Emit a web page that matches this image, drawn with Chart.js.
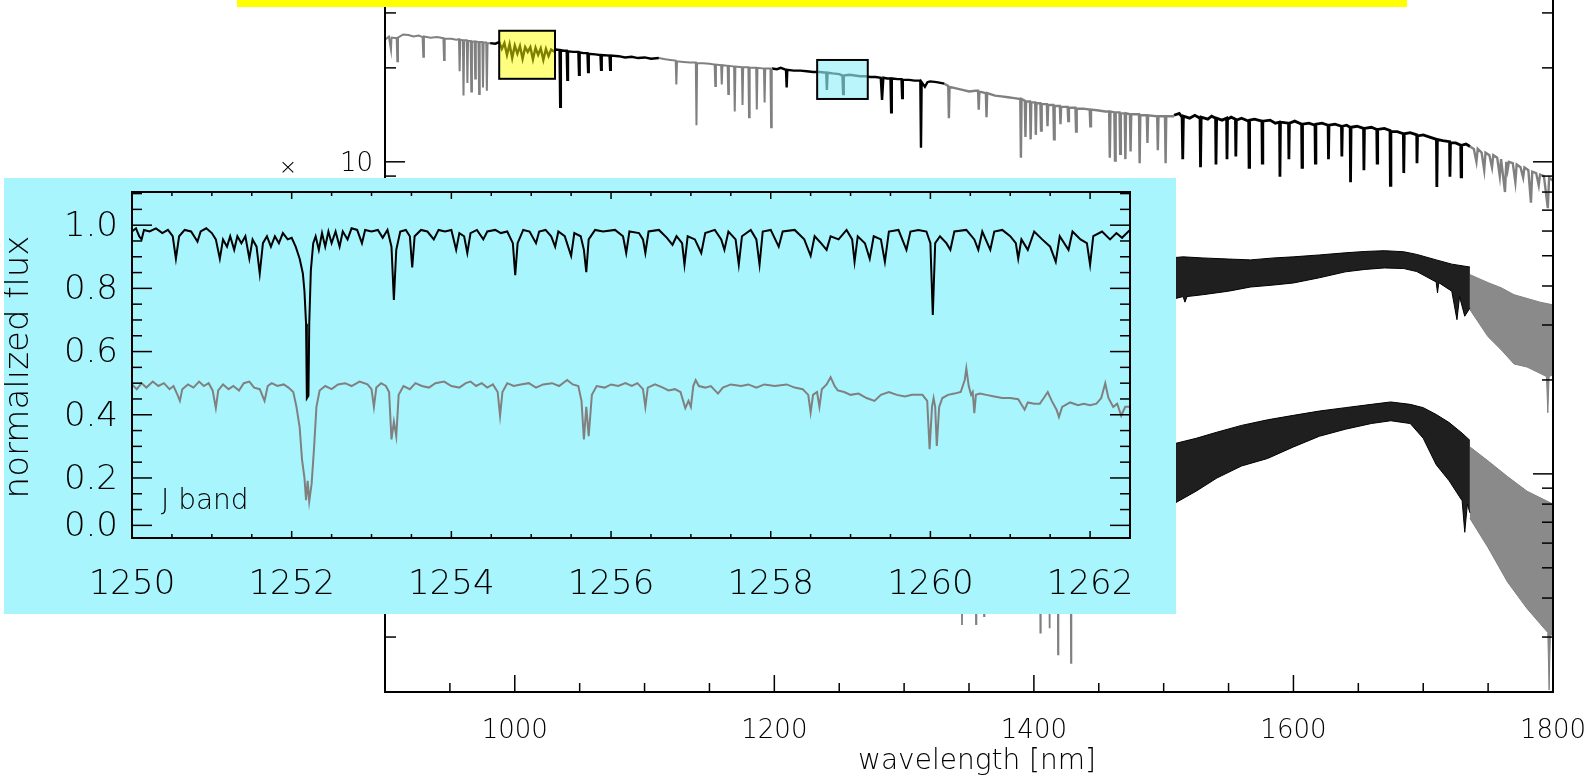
<!DOCTYPE html>
<html>
<head>
<meta charset="utf-8">
<script src="https://cdn.jsdelivr.net/npm/chart.js@4.4.0/dist/chart.umd.min.js"></script>
<style>
  body { margin: 0; background: #fff; }
  #wrap { position: relative; width: 1593px; height: 779px; overflow: hidden; }
  #main { position: absolute; left: 0; top: 0; }
  #yellowBar { position: absolute; left: 237px; top: 0; width: 1170px; height: 7px; background: #ffff00; }
  #insetBox { position: absolute; left: 4px; top: 178px; width: 1172px; height: 436px; background: #a9f5fd; }
  #inset { position: absolute; left: 0; top: 0; }
</style>
</head>
<body>
<div id="wrap">
  <canvas id="main" width="1593" height="779"></canvas>
  <div id="yellowBar"></div>
  <div id="insetBox"><canvas id="inset" width="1172" height="436"></canvas></div>
</div>
<script>
// ---- main panel: wavelength [nm] vs flux (log) ----
// top spectrum, segments alternate grey / black
var topA = [[900,24.6],[903,25.2],[904.6,22.9],[905,25.0],[909,24.9],[909.5,21.0],[910,25.0],[914,25.6],[918,25.5],[922,25.2],[926,25.4],[929,25.1],[929.5,21.7],[930,25.2],[935,25.0],[940,25.1],[945,24.9],[945.5,21.2],[946,24.8],[951,24.8],[955,24.6],[957,24.7],[957.5,19.5],[958,24.6],[960,24.5],[960.5,16.3],[961,24.5],[963,24.5],[963.5,17.9],[964,24.4],[966,24.4],[966.5,16.8],[967,24.3],[969,24.3],[969.5,18.5],[970,24.3],[972,24.2],[972.5,16.5],[973,24.2],[975,24.2],[975.5,17.3],[976,24.1],[978,24.1],[978.5,16.9],[979,24.0],[981,24.0]];
var topB = [[981,24.0],[985,23.9],[988,24.2],[990,23.0],[992,24.0],[994,22.0],[996,23.8],[998,21.5],[1000,23.6],[1002,22.2],[1004,23.5],[1006,21.4],[1008,23.3],[1010,22.5],[1012,23.3],[1014,21.3],[1016,23.2],[1018,22.0],[1020,23.1],[1022,21.2],[1024,23.0],[1026,21.8],[1028,22.9],[1030,22.6],[1032,22.9],[1034.5,22.8],[1035,15.0],[1035.5,22.8],[1038,22.7],[1040,22.7],[1040.5,18.3],[1041,22.6],[1045,22.5],[1049,22.5],[1049.5,19.0],[1050,22.4],[1053,22.3],[1056,22.3],[1056.5,19.4],[1057,22.2],[1062,22.1],[1066,22.0],[1066.5,19.7],[1067,22.0],[1073,21.9],[1073.5,19.7],[1074,21.9],[1080,21.8],[1085,21.6],[1090,21.7],[1095,21.5],[1100,21.6],[1105,21.4],[1111,21.5]];
var topC = [[1111,21.5],[1116,21.3],[1120,21.2],[1124,21.1],[1124.5,17.7],[1125,21.0],[1130,20.9],[1135,20.8],[1139.5,20.8],[1140,13.1],[1140.5,20.7],[1145,20.7],[1150,20.6],[1154,20.5],[1154.5,17.5],[1155,20.5],[1159,20.4],[1159.5,17.7],[1160,20.4],[1164,20.3],[1164.5,16.5],[1165,20.3],[1169,20.2],[1169.5,14.5],[1170,20.2],[1175,20.1],[1175.5,15.2],[1176,20.1],[1180,20.1],[1180.5,13.9],[1181,20.0],[1186,20.0],[1186.5,14.7],[1187,20.0],[1192,19.9],[1192.5,15.5],[1193,19.9],[1197,19.9],[1197.5,12.9],[1198,19.9]];
var topD = [[1198,19.9],[1202,19.8],[1205,20.0],[1209,19.7],[1209.5,17.3],[1210,19.7],[1215,19.6],[1220,19.6],[1225,19.5],[1230,19.4],[1235,19.4],[1240,19.3],[1240.5,17.0],[1241,19.3],[1245,19.2],[1250,19.1],[1252.5,18.9],[1253,16.5],[1253.5,18.9],[1258,19.0],[1262,18.9],[1266,18.8],[1270,18.8],[1274,18.7],[1278,18.7],[1282,18.6],[1283,15.8],[1284,18.6],[1287,18.5],[1289.5,18.5],[1290,14.4],[1290.5,18.5],[1295,18.4],[1298,18.4],[1298.5,16.0],[1299,18.3],[1304,18.3],[1308,18.2],[1312.5,18.2],[1313,11.1],[1313.5,18.0],[1316,17.4],[1318,18.0],[1320,18.1],[1325,18.0],[1331,17.8]];
var topE = [[1331,17.8],[1334,17.5],[1334.5,13.8],[1335,17.4],[1340,17.2],[1345,17.0],[1350,16.8],[1355,16.9],[1357,16.9],[1357.5,14.7],[1358,16.8],[1363,16.6],[1363.5,13.9],[1364,16.6],[1370,16.3],[1375,16.2],[1380,16.1],[1385,16.0],[1389.5,15.9],[1390,10.3],[1390.5,15.9],[1393,15.7],[1393.5,12.0],[1394,15.6],[1397,15.6],[1397.5,11.8],[1398,15.5],[1401,15.5],[1401.5,12.2],[1402,15.4],[1405,15.4],[1405.5,12.6],[1406,15.3],[1410,15.3],[1410.5,13.0],[1411,15.2],[1415,15.2],[1415.5,11.8],[1416,15.1],[1420,15.1],[1420.5,13.2],[1421,15.0],[1426,15.0],[1426.5,13.5],[1427,14.9],[1432,14.9],[1432.5,12.5],[1433,14.8],[1438,14.8],[1443,14.7],[1443.5,13.0],[1444,14.7],[1450,14.6],[1455,14.5],[1458,14.5],[1458.5,10.3],[1459,14.5],[1462,14.4],[1462.5,10.1],[1463,14.4],[1466,14.4],[1466.5,10.6],[1467,14.3],[1470,14.3],[1470.5,10.2],[1471,14.3],[1474,14.2],[1474.5,10.8],[1475,14.2],[1481,14.2],[1481.5,9.9],[1482,14.1],[1487,14.1],[1487.5,11.5],[1488,14.1],[1495,14.0],[1495.5,10.9],[1496,14.0],[1501,14.0],[1501.5,9.9],[1502,14.0],[1508,14.0]];
var topF = [[1508,14.1],[1512,14.3],[1514.2,13.9],[1514.7,10.2],[1515.2,14.0],[1520,13.8],[1524,14.1],[1528,13.8],[1528.4,9.6],[1528.9,13.9],[1534,13.7],[1537,14.0],[1540,13.8],[1540.3,9.8],[1540.8,13.8],[1545,13.6],[1548.5,13.8],[1548.8,10.2],[1549.2,13.7],[1552,13.9],[1555.3,13.7],[1555.6,10.4],[1556,13.6],[1560,13.8],[1565.5,13.5],[1565.8,9.6],[1566.2,13.6],[1570,13.7],[1575.7,13.5],[1576,9.9],[1576.4,13.5],[1582,13.6],[1586,13.3],[1589.3,13.4],[1589.6,8.95],[1590,13.4],[1596.2,13.3],[1596.5,10.2],[1596.9,13.3],[1601,13.5],[1606.3,13.2],[1606.6,9.6],[1607,13.2],[1612,13.3],[1616.6,13.1],[1616.9,9.9],[1617.3,13.2],[1622,13.3],[1626.7,13.1],[1627,10.2],[1627.4,13.1],[1632,13.2],[1637,13.0],[1637.3,10.4],[1637.7,13.0],[1641,13.1],[1643.7,12.9],[1644,8.6],[1644.4,12.9],[1649,13.0],[1654,12.8],[1654.3,9.4],[1654.7,12.8],[1660,12.9],[1664.2,12.7],[1664.5,9.9],[1664.9,12.7],[1670,12.8],[1674.4,12.6],[1674.7,8.4],[1675.1,12.5],[1680,12.5],[1684.7,12.3],[1685,9.2],[1685.4,12.3],[1690,12.4],[1695,12.2],[1695.2,9.9],[1695.6,12.1],[1700,12.2],[1705,12.0],[1710.2,11.8],[1710.5,8.3],[1710.9,11.8],[1715,11.7],[1720.3,11.6],[1720.6,8.95],[1721,11.5],[1725,11.5],[1728.9,11.3],[1729.2,8.95],[1729.6,11.3],[1733,11.4],[1736,11.2]];
var topG = [[1736,11.2],[1739,11.0],[1741,10.0],[1742,11.0],[1745,10.7],[1747,9.4],[1748,10.7],[1751,10.5],[1753,9.6],[1754,10.5],[1757,10.3],[1759,9.0],[1760,10.2],[1763,8.0],[1764,10.0],[1765,9.4],[1766,10.0],[1769,9.9],[1771,8.6],[1772,9.8],[1775,9.6],[1777,8.9],[1778,9.6],[1781,9.4],[1783,7.4],[1784,9.3],[1787,9.2],[1789,8.4],[1790,9.1],[1793,9.0],[1796,7.1],[1797,8.9],[1800,8.7]];

// middle spectrum: noisy band, upper / lower envelope
var midBlackUp = [[1505,4.92],[1515,4.96],[1530,4.92],[1550,4.88],[1567,4.85],[1585,4.92],[1600,4.96],[1620,5.03],[1640,5.11],[1655,5.16],[1670,5.19],[1685,5.15],[1695,5.05],[1710,4.85],[1722,4.70],[1736,4.60]];
var midBlackLo = [[1505,3.61],[1515,3.70],[1516.4,3.55],[1518,3.70],[1530,3.75],[1550,3.85],[1567,3.97],[1585,4.03],[1600,4.09],[1620,4.25],[1640,4.44],[1655,4.52],[1670,4.57],[1685,4.55],[1695,4.45],[1710,4.12],[1711,3.80],[1712,4.10],[1722,3.85],[1726,3.12],[1728,3.70],[1732,3.20],[1736,3.40]];
var midGreyUp = [[1736,4.35],[1750,4.10],[1760,3.95],[1770,3.75],[1780,3.65],[1790,3.55],[1800,3.48]];
var midGreyLo = [[1736,3.36],[1750,2.75],[1760,2.50],[1770,2.25],[1780,2.20],[1790,2.10],[1795,2.05],[1796,1.57],[1797,2.05],[1800,2.08]];

// bottom spectrum
var botBlackUp = [[1505,1.24],[1525,1.30],[1541,1.36],[1560,1.43],[1580,1.49],[1600,1.54],[1620,1.59],[1640,1.63],[1660,1.67],[1675,1.70],[1690,1.67],[1700,1.63],[1710,1.55],[1720,1.46],[1730,1.35],[1736,1.28]];
var botBlackLo = [[1505,0.79],[1525,0.88],[1541,0.97],[1560,1.06],[1580,1.12],[1600,1.22],[1620,1.32],[1640,1.39],[1660,1.45],[1675,1.48],[1690,1.45],[1700,1.30],[1710,1.07],[1720,0.95],[1730,0.82],[1732,0.65],[1734,0.80],[1736,0.75]];
var botGreyUp = [[1736,1.22],[1750,1.10],[1765,0.98],[1780,0.88],[1800,0.80]];
var botGreyLo = [[1736,0.72],[1750,0.58],[1765,0.45],[1780,0.37],[1796,0.31],[1797,0.203],[1798,0.31],[1800,0.30]];
// telluric lines of the bottom spectrum that reach below the inset
var botTelluric = [[1335,0.60],[1344.3,0.60],[1344.6,0.328],[1344.9,0.60],[1355.1,0.60],[1355.4,0.33],[1355.7,0.60],[1361.3,0.60],[1361.6,0.35],[1361.9,0.60],[1404.7,0.55],[1405,0.31],[1405.3,0.55],[1411.7,0.55],[1412,0.32],[1412.3,0.55],[1418.3,0.55],[1418.6,0.264],[1418.9,0.55],[1428.3,0.55],[1428.6,0.248],[1428.9,0.55],[1440,0.60]];

// highlight boxes: [nm from, nm to, flux low, flux high]
var yellowBox = [988, 1031, 18.45, 26.3];
var cyanBox = [1233, 1272, 15.9, 21.2];

var mainXTicks = [1000, 1200, 1400, 1600, 1800];
var mainXLabels = ['1000', '1200', '1400', '1600', '1800'];
var mainYTicks = [1, 10];
var mainYLabels = ['1', '10'];

// ---- inset: J band, normalized flux ----
var insetBlack = [[1250.00,0.98],[1250.05,0.99],[1250.09,0.965],[1250.12,0.955],[1250.15,0.985],[1250.22,0.98],[1250.30,0.99],[1250.38,0.975],[1250.45,0.985],[1250.51,0.965],[1250.55,0.894],[1250.59,0.965],[1250.66,0.985],[1250.74,0.98],[1250.79,0.96],[1250.82,0.948],[1250.86,0.98],[1250.93,0.99],[1251.00,0.975],[1251.05,0.955],[1251.10,0.894],[1251.14,0.955],[1251.19,0.932],[1251.23,0.965],[1251.28,0.922],[1251.32,0.965],[1251.37,0.943],[1251.42,0.965],[1251.47,0.894],[1251.51,0.955],[1251.56,0.932],[1251.60,0.847],[1251.64,0.943],[1251.69,0.965],[1251.74,0.932],[1251.79,0.965],[1251.84,0.943],[1251.89,0.975],[1251.95,0.955],[1252.00,0.96],[1252.05,0.932],[1252.10,0.894],[1252.14,0.847],[1252.16,0.791],[1252.18,0.688],[1252.19,0.452],[1252.21,0.46],[1252.22,0.688],[1252.24,0.856],[1252.27,0.943],[1252.30,0.965],[1252.34,0.922],[1252.38,0.975],[1252.42,0.932],[1252.46,0.98],[1252.50,0.943],[1252.55,0.98],[1252.60,0.932],[1252.64,0.98],[1252.70,0.955],[1252.75,0.99],[1252.82,0.985],[1252.88,0.943],[1252.92,0.985],[1253.00,0.98],[1253.08,0.985],[1253.14,0.96],[1253.20,0.985],[1253.25,0.932],[1253.28,0.763],[1253.31,0.922],[1253.36,0.98],[1253.43,0.985],[1253.48,0.965],[1253.51,0.866],[1253.54,0.965],[1253.62,0.985],[1253.70,0.98],[1253.78,0.955],[1253.84,0.985],[1253.92,0.98],[1254.00,0.985],[1254.06,0.922],[1254.10,0.975],[1254.16,0.965],[1254.20,0.912],[1254.24,0.975],[1254.32,0.985],[1254.40,0.955],[1254.45,0.98],[1254.55,0.985],[1254.62,0.975],[1254.70,0.98],[1254.77,0.943],[1254.80,0.842],[1254.83,0.943],[1254.90,0.985],[1254.98,0.98],[1255.06,0.943],[1255.10,0.98],[1255.18,0.985],[1255.25,0.965],[1255.30,0.932],[1255.34,0.98],[1255.42,0.965],[1255.50,0.903],[1255.54,0.975],[1255.62,0.965],[1255.66,0.922],[1255.69,0.851],[1255.72,0.955],[1255.80,0.985],[1255.90,0.98],[1256.05,0.985],[1256.15,0.965],[1256.19,0.912],[1256.23,0.98],[1256.35,0.975],[1256.40,0.955],[1256.43,0.912],[1256.47,0.98],[1256.60,0.985],[1256.70,0.96],[1256.77,0.938],[1256.82,0.965],[1256.89,0.943],[1256.92,0.875],[1256.96,0.965],[1257.05,0.955],[1257.13,0.912],[1257.18,0.975],[1257.30,0.985],[1257.38,0.955],[1257.42,0.922],[1257.47,0.98],[1257.56,0.955],[1257.60,0.875],[1257.64,0.965],[1257.75,0.985],[1257.82,0.955],[1257.86,0.875],[1257.90,0.98],[1258.00,0.985],[1258.10,0.932],[1258.15,0.98],[1258.30,0.985],[1258.42,0.955],[1258.50,0.903],[1258.55,0.965],[1258.63,0.943],[1258.70,0.922],[1258.75,0.965],[1258.85,0.955],[1258.95,0.985],[1259.02,0.955],[1259.05,0.884],[1259.09,0.965],[1259.18,0.943],[1259.24,0.894],[1259.29,0.965],[1259.38,0.955],[1259.43,0.884],[1259.48,0.98],[1259.60,0.985],[1259.70,0.922],[1259.75,0.98],[1259.85,0.985],[1259.95,0.98],[1260.00,0.943],[1260.03,0.716],[1260.06,0.943],[1260.12,0.965],[1260.20,0.943],[1260.25,0.922],[1260.30,0.98],[1260.45,0.985],[1260.55,0.955],[1260.60,0.922],[1260.65,0.98],[1260.75,0.922],[1260.80,0.98],[1260.90,0.985],[1261.00,0.965],[1261.07,0.943],[1261.10,0.894],[1261.14,0.955],[1261.22,0.922],[1261.30,0.98],[1261.40,0.955],[1261.50,0.932],[1261.57,0.884],[1261.62,0.965],[1261.73,0.922],[1261.78,0.98],[1261.88,0.955],[1261.96,0.943],[1262.00,0.875],[1262.04,0.965],[1262.15,0.98],[1262.25,0.955],[1262.33,0.975],[1262.40,0.96],[1262.50,0.985]];
var insetGrey = [[1250.00,0.496],[1250.06,0.481],[1250.12,0.50],[1250.18,0.486],[1250.26,0.505],[1250.33,0.491],[1250.40,0.50],[1250.47,0.481],[1250.52,0.491],[1250.57,0.463],[1250.60,0.444],[1250.63,0.481],[1250.70,0.496],[1250.77,0.486],[1250.84,0.505],[1250.90,0.491],[1250.96,0.50],[1251.01,0.477],[1251.05,0.421],[1251.08,0.477],[1251.14,0.496],[1251.21,0.481],[1251.27,0.491],[1251.34,0.477],[1251.40,0.50],[1251.47,0.505],[1251.53,0.486],[1251.60,0.481],[1251.66,0.444],[1251.70,0.491],[1251.75,0.50],[1251.82,0.491],[1251.90,0.496],[1251.96,0.486],[1252.02,0.472],[1252.06,0.425],[1252.10,0.36],[1252.13,0.257],[1252.16,0.20],[1252.18,0.13],[1252.20,0.191],[1252.22,0.126],[1252.25,0.182],[1252.28,0.294],[1252.31,0.425],[1252.35,0.477],[1252.42,0.491],[1252.50,0.481],[1252.58,0.496],[1252.67,0.50],[1252.75,0.491],[1252.85,0.505],[1252.95,0.496],[1253.00,0.481],[1253.03,0.425],[1253.06,0.486],[1253.12,0.50],[1253.18,0.491],[1253.22,0.472],[1253.25,0.322],[1253.28,0.378],[1253.31,0.332],[1253.34,0.463],[1253.40,0.491],[1253.48,0.481],[1253.55,0.50],[1253.63,0.491],[1253.72,0.486],[1253.80,0.50],[1253.91,0.505],[1254.00,0.491],[1254.10,0.486],[1254.18,0.50],[1254.24,0.505],[1254.31,0.491],[1254.38,0.50],[1254.45,0.486],[1254.52,0.496],[1254.58,0.472],[1254.61,0.397],[1254.64,0.472],[1254.70,0.50],[1254.78,0.491],[1254.87,0.496],[1254.97,0.50],[1255.06,0.486],[1255.15,0.496],[1255.26,0.50],[1255.35,0.491],[1255.45,0.51],[1255.52,0.496],[1255.59,0.491],[1255.63,0.444],[1255.66,0.322],[1255.69,0.425],[1255.72,0.332],[1255.76,0.463],[1255.82,0.491],[1255.92,0.486],[1256.00,0.496],[1256.09,0.491],[1256.18,0.50],[1256.26,0.491],[1256.33,0.50],[1256.40,0.481],[1256.43,0.425],[1256.46,0.486],[1256.55,0.496],[1256.65,0.486],[1256.72,0.477],[1256.80,0.481],[1256.87,0.472],[1256.93,0.421],[1256.97,0.444],[1257.00,0.425],[1257.03,0.491],[1257.06,0.51],[1257.10,0.491],[1257.18,0.486],[1257.25,0.491],[1257.34,0.467],[1257.40,0.486],[1257.50,0.496],[1257.63,0.491],[1257.72,0.496],[1257.82,0.486],[1257.92,0.496],[1258.05,0.491],[1258.20,0.496],[1258.30,0.486],[1258.40,0.481],[1258.47,0.463],[1258.50,0.407],[1258.53,0.463],[1258.58,0.472],[1258.61,0.425],[1258.64,0.481],[1258.70,0.496],[1258.75,0.519],[1258.80,0.491],[1258.84,0.477],[1258.92,0.472],[1259.00,0.463],[1259.10,0.467],[1259.20,0.453],[1259.30,0.444],[1259.38,0.463],[1259.48,0.472],[1259.58,0.463],[1259.68,0.458],[1259.77,0.463],[1259.85,0.463],[1259.90,0.463],[1259.96,0.444],[1259.99,0.291],[1260.02,0.425],[1260.04,0.453],[1260.06,0.425],[1260.08,0.301],[1260.11,0.425],[1260.15,0.453],[1260.22,0.463],[1260.30,0.467],[1260.38,0.472],[1260.43,0.51],[1260.45,0.547],[1260.48,0.491],[1260.51,0.463],[1260.53,0.472],[1260.55,0.405],[1260.57,0.463],[1260.62,0.467],[1260.70,0.463],[1260.80,0.458],[1260.90,0.453],[1261.00,0.453],[1261.10,0.449],[1261.18,0.416],[1261.22,0.439],[1261.30,0.435],[1261.37,0.435],[1261.42,0.453],[1261.47,0.472],[1261.52,0.444],[1261.58,0.416],[1261.61,0.393],[1261.65,0.425],[1261.75,0.439],[1261.85,0.430],[1261.92,0.435],[1262.00,0.430],[1262.08,0.435],[1262.14,0.453],[1262.19,0.50],[1262.23,0.453],[1262.29,0.425],[1262.34,0.435],[1262.39,0.397],[1262.44,0.425],[1262.50,0.425]];

var insetXTicks = [1250, 1252, 1254, 1256, 1258, 1260, 1262];
var insetXLabels = ['1250', '1252', '1254', '1256', '1258', '1260', '1262'];
// the lowest labelled tick of the original sits at 0.05
var insetYTicks = [0.05, 0.2, 0.4, 0.6, 0.8, 1.0];
var insetYLabels = ['0.0', '0.2', '0.4', '0.6', '0.8', '1.0'];

var BLACK = '#000000';
var GREY = '#808080';
var FONT = '"DejaVu Sans", sans-serif';
var W = '200 ';

function toXY(arr) {
    return arr.map(function (p) { return { x: p[0], y: p[1] }; });
}
function lineSet(arr, color, w) {
    return { data: toXY(arr), borderColor: color, borderWidth: w, pointRadius: 0, fill: false };
}
function bandSets(up, lo, color, fillColor) {
    return [
        { data: toXY(up), borderColor: color, borderWidth: 1, pointRadius: 0, fill: '+1', backgroundColor: fillColor },
        { data: toXY(lo), borderColor: color, borderWidth: 1, pointRadius: 0, fill: false }
    ];
}

function tick(ctx, x1, y1, x2, y2) {
    ctx.beginPath();
    ctx.moveTo(x1, y1);
    ctx.lineTo(x2, y2);
    ctx.stroke();
}

//Main chart axes, IDL style ticks pointing inward
var mainAxes = {
    id: 'mainAxes',
    afterDatasetsDraw: function (chart) {
        var ctx = chart.ctx, x = chart.scales.x, y = chart.scales.y;
        [[yellowBox, 'rgba(255,255,0,0.5)'], [cyanBox, 'rgba(150,240,250,0.65)']].forEach(function (b) {
            var box = b[0];
            var x1 = x.getPixelForValue(box[0]), x2 = x.getPixelForValue(box[1]);
            var y1 = y.getPixelForValue(box[3]), y2 = y.getPixelForValue(box[2]);
            ctx.save();
            ctx.fillStyle = b[1];
            ctx.fillRect(x1, y1, x2 - x1, y2 - y1);
            ctx.strokeStyle = BLACK;
            ctx.lineWidth = 2;
            ctx.strokeRect(x1, y1, x2 - x1, y2 - y1);
            ctx.restore();
        });
    },
    afterDraw: function (chart) {
        var ctx = chart.ctx, a = chart.chartArea, x = chart.scales.x, y = chart.scales.y;
        ctx.save();
        ctx.strokeStyle = BLACK;
        ctx.lineWidth = 2;
        ctx.beginPath();
        ctx.moveTo(a.left, a.top);
        ctx.lineTo(a.left, a.bottom);
        ctx.lineTo(a.right, a.bottom);
        ctx.lineTo(a.right, a.top);
        ctx.stroke();
        ctx.lineWidth = 1.5;
        for (var v = 950; v <= 1800; v += 50) {
            var px = x.getPixelForValue(v);
            var len = mainXTicks.indexOf(v) >= 0 ? 17 : 9;
            tick(ctx, px, a.bottom, px, a.bottom - len);
        }
        [0.1, 1, 10].forEach(function (d) {
            for (var m = 1; m <= 9; m++) {
                var val = m * d;
                if (val < 0.2 || val > 33) continue;
                var py = y.getPixelForValue(val);
                var l = m === 1 ? 20 : 11;
                tick(ctx, a.left, py, a.left + l, py);
                tick(ctx, a.right, py, a.right - l, py);
            }
        });
        ctx.fillStyle = BLACK;
        ctx.font = W + '26px ' + FONT;
        ctx.textAlign = 'center';
        ctx.textBaseline = 'middle';
        mainXTicks.forEach(function (v, i) {
            ctx.fillText(mainXLabels[i], x.getPixelForValue(v), a.bottom + 39);
        });
        ctx.textAlign = 'right';
        mainYTicks.forEach(function (v, i) {
            ctx.fillText(mainYLabels[i], a.left - 12, y.getPixelForValue(v) + 2);
        });
        ctx.font = W + '22px ' + FONT;
        ctx.textAlign = 'center';
        ctx.fillText('\u00d7', a.left - 97, y.getPixelForValue(10) + 6);
        ctx.font = W + '28px ' + FONT;
        ctx.fillText('wavelength [nm]', (a.left + a.right) / 2 + 8, a.bottom + 70);
        ctx.restore();
    }
};

var mainSets = [
    lineSet(topA, GREY, 2), lineSet(topB, BLACK, 2.4), lineSet(topC, GREY, 2),
    lineSet(topD, BLACK, 2.4), lineSet(topE, GREY, 2.4), lineSet(topF, BLACK, 2.8), lineSet(topG, GREY, 2.4),
    lineSet(botTelluric, GREY, 1.8)
].concat(
    bandSets(midBlackUp, midBlackLo, BLACK, 'rgba(0,0,0,0.88)'),
    bandSets(midGreyUp, midGreyLo, GREY, 'rgba(128,128,128,0.92)'),
    bandSets(botBlackUp, botBlackLo, BLACK, 'rgba(0,0,0,0.88)'),
    bandSets(botGreyUp, botGreyLo, GREY, 'rgba(128,128,128,0.92)')
);

new Chart(document.getElementById('main').getContext('2d'), {
    type: 'line',
    data: { datasets: mainSets },
    options: {
        responsive: false,
        animation: false,
        devicePixelRatio: 1,
        layout: { padding: { left: 385, right: 40, top: 0, bottom: 87 } },
        scales: {
            x: { type: 'linear', min: 900, max: 1800, display: false },
            y: { type: 'logarithmic', min: 0.2, max: 33, display: false }
        },
        plugins: { legend: { display: false }, tooltip: { enabled: false } },
        elements: { point: { radius: 0 }, line: { tension: 0 } }
    },
    plugins: [mainAxes]
});

// Inset axes
var insetAxes = {
    id: 'insetAxes',
    afterDraw: function (chart) {
        var ctx = chart.ctx, a = chart.chartArea, x = chart.scales.x, y = chart.scales.y;
        ctx.save();
        ctx.strokeStyle = BLACK;
        ctx.lineWidth = 2;
        ctx.strokeRect(a.left, a.top, a.right - a.left, a.bottom - a.top);
        ctx.lineWidth = 1.5;
        for (var k = 0; k <= 25; k++) {
            var v = 1250 + k * 0.5;
            var px = x.getPixelForValue(v);
            var len = (k % 4 === 0) ? 7 : 4;
            tick(ctx, px, a.bottom, px, a.bottom - len);
            tick(ctx, px, a.top, px, a.top + len);
        }
        for (var j = 1; j <= 22; j++) {
            var val = j * 0.05;
            var py = y.getPixelForValue(val);
            var major = j === 1 || (j % 4 === 0);
            var l = major ? 20 : 10;
            tick(ctx, a.left, py, a.left + l, py);
            tick(ctx, a.right, py, a.right - l, py);
        }
        ctx.fillStyle = BLACK;
        ctx.font = W + '34px ' + FONT;
        ctx.textBaseline = 'middle';
        ctx.textAlign = 'center';
        insetXTicks.forEach(function (v, i) {
            ctx.fillText(insetXLabels[i], x.getPixelForValue(v), a.bottom + 47);
        });
        ctx.textAlign = 'right';
        insetYTicks.forEach(function (v, i) {
            ctx.fillText(insetYLabels[i], a.left - 14, y.getPixelForValue(v) + 2);
        });
        ctx.save();
        ctx.translate(15, (a.top + a.bottom) / 2 + 2);
        ctx.rotate(-Math.PI / 2);
        ctx.textAlign = 'center';
        ctx.fillText('normalized flux', 0, 0);
        ctx.restore();
        ctx.font = W + '28px ' + FONT;
        ctx.textAlign = 'left';
        ctx.fillText('J band', a.left + 29, a.bottom - 36);
        ctx.restore();
    }
};

new Chart(document.getElementById('inset').getContext('2d'), {
    type: 'line',
    data: {
        datasets: [
            lineSet(insetBlack, BLACK, 2),
            lineSet(insetGrey, GREY, 2)
        ]
    },
    options: {
        responsive: false,
        animation: false,
        devicePixelRatio: 1,
        layout: { padding: { left: 128, right: 46, top: 14, bottom: 76 } },
        scales: {
            x: { type: 'linear', min: 1250, max: 1262.5, display: false },
            y: { type: 'linear', min: 0.01, max: 1.105, display: false }
        },
        plugins: { legend: { display: false }, tooltip: { enabled: false } },
        elements: { point: { radius: 0 }, line: { tension: 0 } }
    },
    plugins: [insetAxes]
});
</script>
</body>
</html>
